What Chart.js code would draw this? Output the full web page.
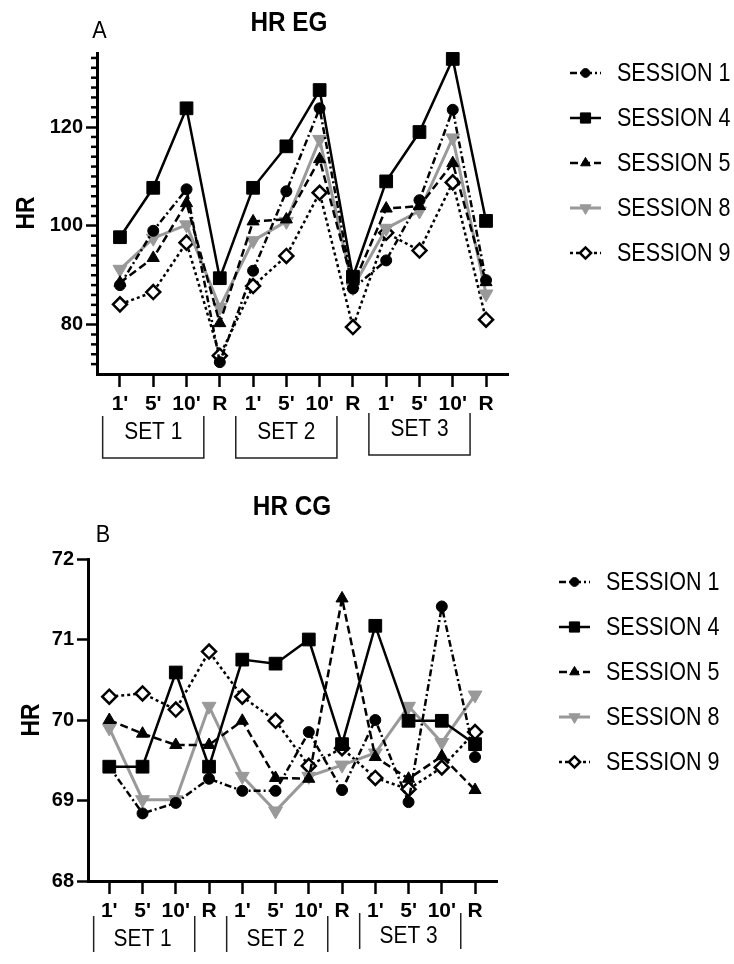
<!DOCTYPE html>
<html>
<head>
<meta charset="utf-8">
<script src="https://cdn.jsdelivr.net/npm/chart.js@4.4.1/dist/chart.umd.min.js"></script>
<style>
  html, body { margin: 0; padding: 0; background: #fff; }
  .panel { position: absolute; left: 0; width: 734px; height: 482px; }
  #panelA { top: 0; }
  #panelB { top: 482px; }
</style>
</head>
<body>
<div class="panel" id="panelA"><canvas id="chartEG"></canvas></div>
<div class="panel" id="panelB"><canvas id="chartCG"></canvas></div>
<script>
const timeLabels = ["1'", "5'", "10'", "R", "1'", "5'", "10'", "R", "1'", "5'", "10'", "R"];
const setNames = ['SET 1', 'SET 2', 'SET 3'];
const sessionNames = ['SESSION 1', 'SESSION 4', 'SESSION 5', 'SESSION 8', 'SESSION 9'];

// panel A - HR EG
const egSession1 = [88.0, 99.0, 107.4, 72.4, 90.9, 107.0, 123.8, 87.3, 93.0, 105.2, 123.5, 89.0];
const egSession4 = [97.7, 107.7, 123.8, 89.4, 107.7, 116.1, 127.5, 89.7, 109.0, 119.0, 133.8, 101.0];
const egSession5 = [88.5, 93.5, 104.6, 80.3, 100.9, 101.3, 113.5, 88.0, 103.5, 104.0, 112.7, 88.6];
const egSession8 = [91.2, 97.5, 100.2, 83.5, 97.0, 100.9, 117.5, 87.5, 99.5, 103.0, 117.8, 86.2];
const egSession9 = [84.1, 86.6, 96.6, 73.7, 87.8, 93.9, 106.7, 79.5, 98.6, 95.0, 108.8, 81.0];
const egTicks = [80, 100, 120];

// panel B - HR CG
const cgSession1 = [69.42, 68.84, 68.97, 69.27, 69.12, 69.12, 69.85, 69.13, 70.0, 68.98, 71.41, 69.54];
const cgSession4 = [69.42, 69.42, 70.59, 69.42, 70.75, 70.7, 71.0, 69.7, 71.17, 69.99, 69.99, 69.7];
const cgSession5 = [70.0, 69.83, 69.69, 69.69, 69.99, 69.28, 69.27, 71.51, 69.54, 69.27, 69.55, 69.13];
const cgSession8 = [69.9, 69.01, 69.01, 70.17, 69.3, 68.87, 69.3, 69.44, 69.59, 70.17, 69.72, 70.31];
const cgSession9 = [70.29, 70.33, 70.13, 70.85, 70.29, 69.99, 69.43, 69.65, 69.28, 69.14, 69.41, 69.85];
const cgTicks = [68, 69, 70, 71, 72];

const FONT = "'Liberation Sans', Arial, sans-serif";
const GREY = '#999999';

const sessionStyles = [
    { dash: [7, 3, 2, 3], point: 'circle', rotation: 0, radius: 5.5, fill: '#000', color: '#000', width: 2.5, pointWidth: 1, order: 1 },
    { dash: [], point: 'rect', rotation: 0, radius: 9, fill: '#000', color: '#000', width: 2.5, pointWidth: 1, order: 0 },
    { dash: [8, 4], point: 'triangle', rotation: 0, radius: 7, fill: '#000', color: '#000', width: 2.5, pointWidth: 1, order: 2 },
    { dash: [], point: 'triangle', rotation: 180, radius: 8, fill: GREY, color: GREY, width: 3, pointWidth: 1, order: 3 },
    { dash: [3, 3], point: 'rectRot', rotation: 0, radius: 7, fill: '#fff', color: '#000', width: 2.5, pointWidth: 2.5, order: 4 }
];

function sessionDatasets(series) {
    return series.map((values, k) => {
        let s = sessionStyles[k];
        return {
            label: sessionNames[k],
            data: values.map((v, i) => ({ x: i, y: v })),
            borderColor: s.color,
            borderWidth: s.width,
            borderDash: s.dash,
            pointStyle: s.point,
            pointRotation: s.rotation,
            pointRadius: s.radius,
            pointBackgroundColor: s.fill,
            pointBorderColor: s.color,
            pointBorderWidth: s.pointWidth,
            tension: 0,
            fill: false,
            clip: false,
            order: s.order
        };
    });
}

// the figure's text is a narrow sans, so squeeze it a little
function narrowText(ctx, text, x, y, sx) {
    ctx.save();
    ctx.translate(x, y);
    ctx.scale(sx, 1);
    ctx.fillText(text, 0, 0);
    ctx.restore();
}

// titles, panel letter, y title, SET brackets, minor ticks, legend
const decorations = {
    id: 'decorations',
    afterDraw(chart, args, o) {
        let ctx = chart.ctx;
        let xs = chart.scales.x;
        let ys = chart.scales.y;
        ctx.save();
        ctx.fillStyle = '#000';
        ctx.strokeStyle = '#000';
        ctx.textAlign = 'center';
        ctx.textBaseline = 'middle';

        ctx.font = 'bold 27px ' + FONT;
        narrowText(ctx, o.title, o.titleX, o.titleY, 0.9);
        ctx.font = '24px ' + FONT;
        narrowText(ctx, o.letter, o.letterX, o.letterY, 0.9);

        ctx.save();
        ctx.translate(o.yTitleX, o.yTitleY);
        ctx.rotate(-Math.PI / 2);
        ctx.font = 'bold 26px ' + FONT;
        narrowText(ctx, 'HR', 0, 0, 0.88);
        ctx.restore();

        // minor ticks on the y axis
        if (o.minor) {
            ctx.lineWidth = 2.5;
            for (let v = o.minor.from; v <= o.minor.to; v += o.minor.step) {
                if (o.minor.skip.includes(v)) continue;
                let y = ys.getPixelForValue(v);
                ctx.beginPath();
                ctx.moveTo(chart.chartArea.left - o.minor.length, y);
                ctx.lineTo(chart.chartArea.left, y);
                ctx.stroke();
            }
        }

        // SET brackets under the axis
        ctx.lineWidth = 1.5;
        ctx.strokeStyle = '#222';
        ctx.font = '24px ' + FONT;
        setNames.forEach((name, k) => {
            let x1 = xs.getPixelForValue(4 * k + o.setFrom);
            let x2 = xs.getPixelForValue(4 * k + o.setTo);
            let dy = o.setShift[k];
            ctx.beginPath();
            ctx.moveTo(x1, o.setTop + dy);
            ctx.lineTo(x1, o.setBottom + dy);
            if (o.setBox) {
                ctx.lineTo(x2, o.setBottom + dy);
            } else {
                ctx.moveTo(x2, o.setBottom + dy);
            }
            ctx.lineTo(x2, o.setTop + dy);
            ctx.stroke();
            narrowText(ctx, name, xs.getPixelForValue(4 * k + 1), o.setTextY + dy, 0.87);
        });

        // legend
        ctx.textAlign = 'left';
        ctx.font = '25px ' + FONT;
        chart.data.datasets.forEach((ds, k) => {
            let y = o.legendY + k * o.legendStep;
            let x = o.legendX;
            ctx.setLineDash(ds.borderDash);
            ctx.lineWidth = ds.borderWidth;
            ctx.strokeStyle = ds.borderColor;
            ctx.beginPath();
            ctx.moveTo(x, y);
            ctx.lineTo(x + 31, y);
            ctx.stroke();
            ctx.setLineDash([]);
            ctx.fillStyle = ds.pointBackgroundColor;
            ctx.strokeStyle = ds.pointBorderColor;
            ctx.lineWidth = ds.pointBorderWidth;
            Chart.helpers.drawPoint(ctx, {
                pointStyle: ds.pointStyle,
                rotation: ds.pointRotation,
                radius: ds.pointRadius * 0.8,
                borderWidth: ds.pointBorderWidth
            }, x + 15.5, y);
            ctx.fillStyle = '#000';
            narrowText(ctx, ds.label, o.legendTextX, y + 1, 0.86);
        });
        ctx.restore();
    }
};

function makeChart(id, series, yMin, yMax, yTicks, area, deco) {
    let ctx = document.getElementById(id).getContext('2d');
    return new Chart(ctx, {
        type: 'line',
        data: { datasets: sessionDatasets(series) },
        options: {
            responsive: true,
            maintainAspectRatio: false,
            devicePixelRatio: 1,
            animation: false,
            layout: {
                padding: { left: 0, right: 734 - area.right, top: area.top, bottom: 482 - area.bottom - 60 }
            },
            plugins: {
                legend: { display: false },
                tooltip: { enabled: false },
                decorations: deco
            },
            scales: {
                x: {
                    type: 'linear',
                    min: area.xMin,
                    max: area.xMax,
                    afterBuildTicks: s => { s.ticks = timeLabels.map((t, i) => ({ value: i })); },
                    afterFit: s => { s.height = 60; },
                    grid: { drawOnChartArea: false, drawTicks: true, tickLength: 13, tickWidth: 2.5, tickColor: '#000' },
                    border: { display: true, color: '#000', width: 3 },
                    ticks: {
                        autoSkip: false,
                        maxRotation: 0,
                        padding: 5,
                        color: '#000',
                        font: { family: FONT, size: 21, weight: 'bold' },
                        callback: (v, i) => timeLabels[i]
                    }
                },
                y: {
                    min: yMin,
                    max: yMax,
                    afterBuildTicks: s => { s.ticks = yTicks.map(v => ({ value: v })); },
                    afterFit: s => { s.width = area.left; },
                    grid: { drawOnChartArea: false, drawTicks: true, tickLength: 11, tickWidth: 2.5, tickColor: '#000' },
                    border: { display: true, color: '#000', width: 3 },
                    ticks: {
                        padding: 3,
                        color: '#000',
                        font: { family: FONT, size: 20, weight: 'bold' }
                    }
                }
            }
        },
        plugins: [decorations]
    });
}

makeChart('chartEG',
    [egSession1, egSession4, egSession5, egSession8, egSession9],
    70, 135, egTicks,
    { left: 97, right: 508, top: 53, bottom: 374, xMin: -0.69, xMax: 11.66 },
    {
        title: 'HR EG', titleX: 289, titleY: 24,
        letter: 'A', letterX: 99.5, letterY: 31,
        yTitleX: 27, yTitleY: 213,
        minor: { from: 72, to: 134, step: 2, skip: egTicks, length: 6 },
        setFrom: -0.52, setTo: 2.52, setBox: true,
        setTop: 416, setBottom: 458, setTextY: 432, setShift: [0, 0, -3],
        legendX: 570, legendTextX: 617, legendY: 73, legendStep: 45
    });

makeChart('chartCG',
    [cgSession1, cgSession4, cgSession5, cgSession8, cgSession9],
    68, 72, cgTicks,
    { left: 88, right: 497, top: 77, bottom: 399, xMin: -0.64, xMax: 11.66 },
    {
        title: 'HR CG', titleX: 292, titleY: 26,
        letter: 'B', letterX: 103, letterY: 53,
        yTitleX: 32, yTitleY: 238,
        minor: null,
        setFrom: -0.47, setTo: 2.57, setBox: false,
        setTop: 434, setBottom: 470, setTextY: 457, setShift: [0, 0, -3],
        legendX: 559, legendTextX: 606, legendY: 100, legendStep: 45
    });
</script>
</body>
</html>
